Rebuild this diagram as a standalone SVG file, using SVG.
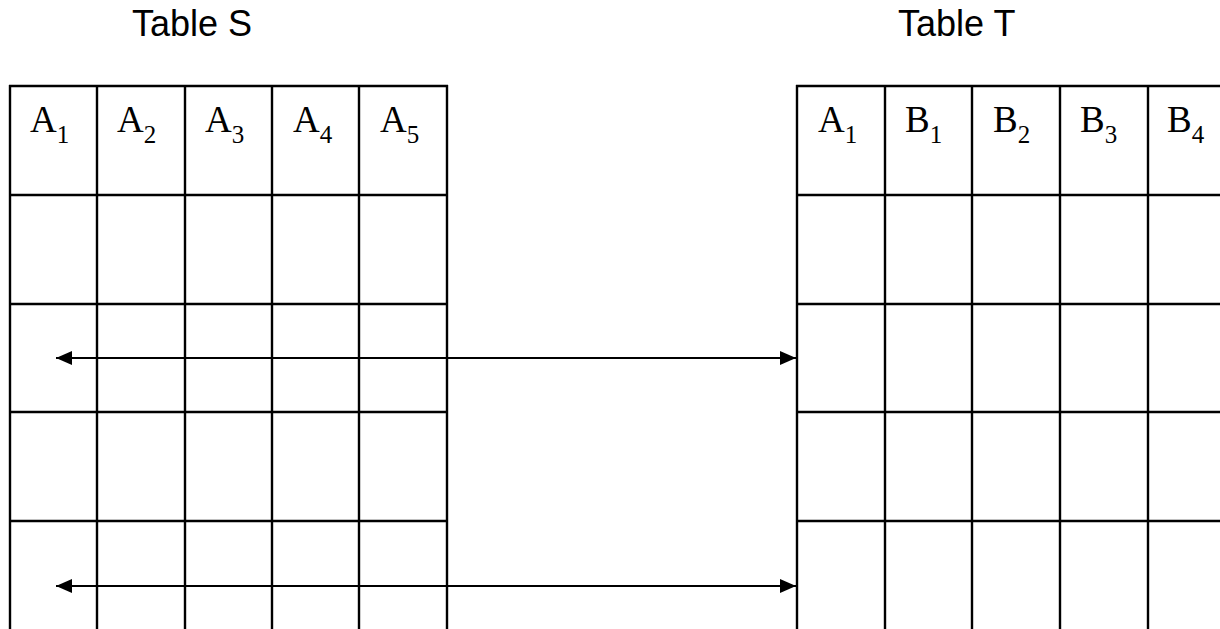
<svg xmlns="http://www.w3.org/2000/svg" width="1220" height="629" viewBox="0 0 1220 629">
<style>
.grid line{stroke:#000;stroke-width:2.4;fill:none}
.title{font-family:"Liberation Sans",Arial,sans-serif;font-size:36px;fill:#000}
.lbl{font-family:"Liberation Serif","Times New Roman",serif;font-size:37px;fill:#000}
.sub{font-size:25px}
.conn line{stroke:#000;stroke-width:2.2}
</style>
<defs>
<marker id="ah" viewBox="0 0 16 14" refX="16" refY="7" markerWidth="16" markerHeight="14" markerUnits="userSpaceOnUse" orient="auto-start-reverse">
<path d="M0,0 L16,7 L0,14 z" fill="#000"/>
</marker>
</defs>
<rect width="1220" height="629" fill="#fff"/>
<text class="title" x="132" y="36">Table S</text>
<text class="title" x="898" y="36">Table T</text>
<g id="tableS" class="grid">
<line x1="9" y1="86" x2="448" y2="86"/>
<line x1="9" y1="195" x2="448" y2="195"/>
<line x1="9" y1="304" x2="448" y2="304"/>
<line x1="9" y1="412" x2="448" y2="412"/>
<line x1="9" y1="521" x2="448" y2="521"/>
<line x1="10" y1="85" x2="10" y2="629"/>
<line x1="97" y1="85" x2="97" y2="629"/>
<line x1="185" y1="85" x2="185" y2="629"/>
<line x1="272" y1="85" x2="272" y2="629"/>
<line x1="359" y1="85" x2="359" y2="629"/>
<line x1="447" y1="85" x2="447" y2="629"/>
<text class="lbl" x="30" y="132">A<tspan class="sub" dy="11">1</tspan></text>
<text class="lbl" x="117" y="132">A<tspan class="sub" dy="11">2</tspan></text>
<text class="lbl" x="205" y="132">A<tspan class="sub" dy="11">3</tspan></text>
<text class="lbl" x="293" y="132">A<tspan class="sub" dy="11">4</tspan></text>
<text class="lbl" x="380" y="132">A<tspan class="sub" dy="11">5</tspan></text>
</g>
<g id="tableT" class="grid">
<line x1="796" y1="86" x2="1220" y2="86"/>
<line x1="796" y1="195" x2="1220" y2="195"/>
<line x1="796" y1="304" x2="1220" y2="304"/>
<line x1="796" y1="412" x2="1220" y2="412"/>
<line x1="796" y1="521" x2="1220" y2="521"/>
<line x1="797" y1="85" x2="797" y2="629"/>
<line x1="885" y1="85" x2="885" y2="629"/>
<line x1="972" y1="85" x2="972" y2="629"/>
<line x1="1060" y1="85" x2="1060" y2="629"/>
<line x1="1148" y1="85" x2="1148" y2="629"/>
<text class="lbl" x="818" y="132">A<tspan class="sub" dy="11">1</tspan></text>
<text class="lbl" x="905" y="132">B<tspan class="sub" dy="11">1</tspan></text>
<text class="lbl" x="993" y="132">B<tspan class="sub" dy="11">2</tspan></text>
<text class="lbl" x="1080" y="132">B<tspan class="sub" dy="11">3</tspan></text>
<text class="lbl" x="1167" y="132">B<tspan class="sub" dy="11">4</tspan></text>
</g>
<g id="connectors" class="conn">
<line x1="56" y1="358" x2="796" y2="358" marker-start="url(#ah)" marker-end="url(#ah)"/>
<line x1="56" y1="586" x2="796" y2="586" marker-start="url(#ah)" marker-end="url(#ah)"/>
</g>
</svg>
